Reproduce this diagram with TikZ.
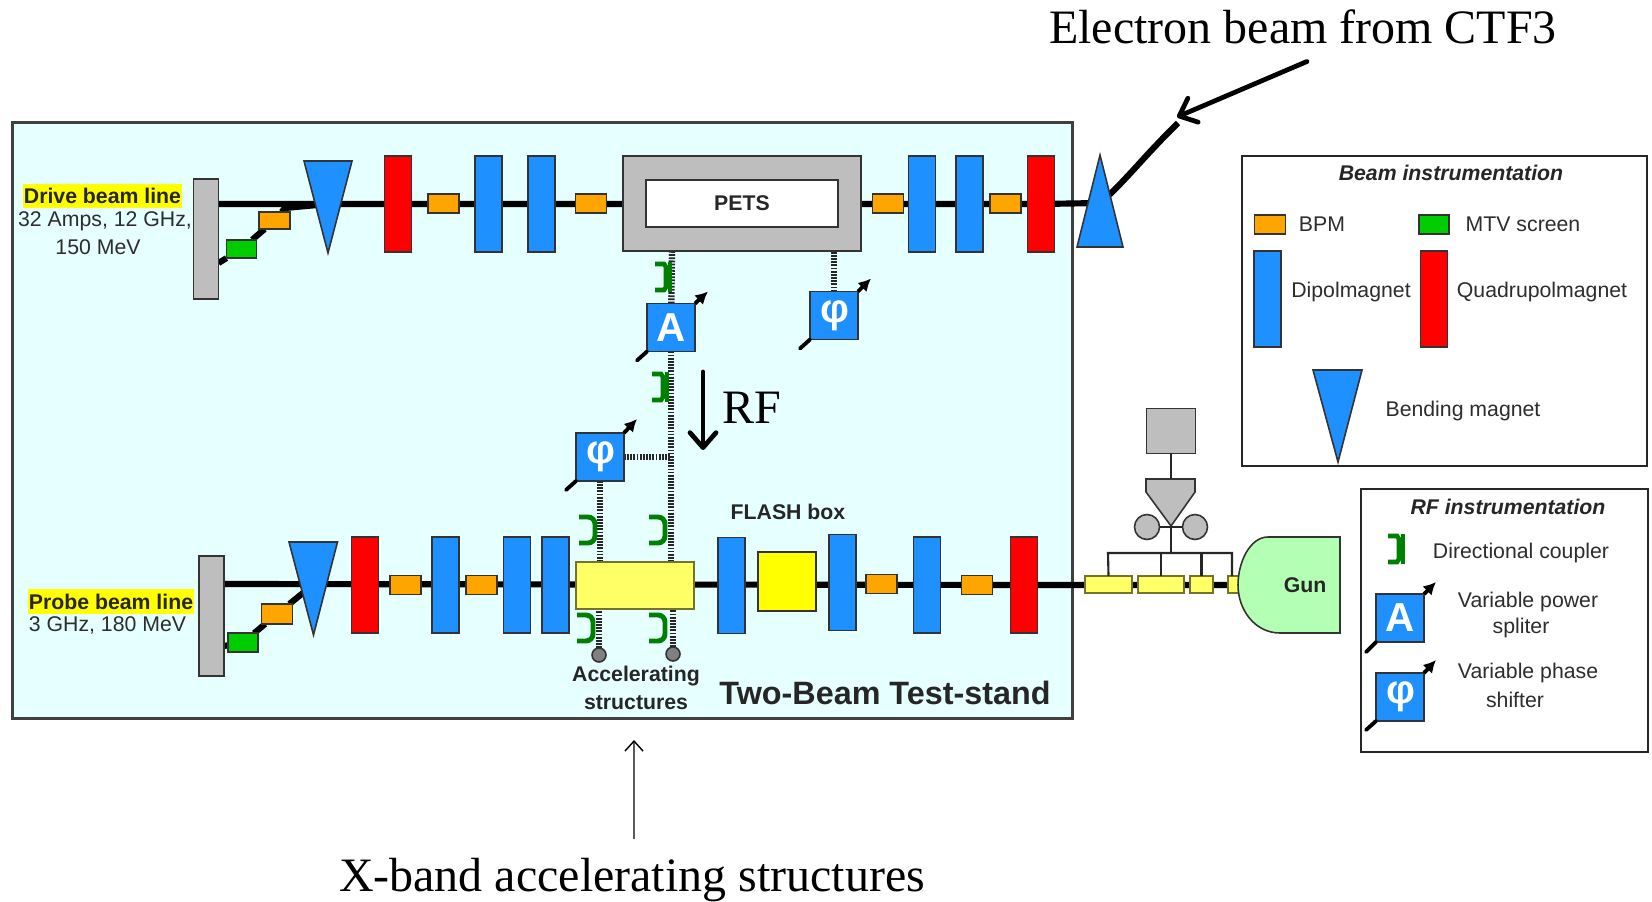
\documentclass[tikz,border=0pt]{standalone}
\usepackage{fontspec}
\setmainfont{Liberation Sans}
\newfontfamily\timesfont{Liberation Serif}
\definecolor{standbg}{RGB}{230, 255, 255}
\definecolor{magblue}{RGB}{30, 144, 255}
\definecolor{quadred}{RGB}{255, 0, 0}
\definecolor{bpmorange}{RGB}{255, 165, 0}
\definecolor{mtvgreen}{RGB}{0, 205, 0}
\definecolor{dumpgray}{RGB}{190, 190, 190}
\definecolor{hilite}{RGB}{255, 255, 0}
\definecolor{acclyellow}{RGB}{255, 255, 102}
\definecolor{gungreen}{RGB}{179, 255, 179}
\definecolor{couplergreen}{RGB}{0, 128, 0}
\definecolor{labelgray}{RGB}{45, 45, 45}
\usetikzlibrary{arrows.meta, backgrounds}
\tikzset{
  part/.style={draw=black!80, line width=0.9pt, inner sep=0pt, outer sep=0pt},
  bpm/.style={part, fill=bpmorange, minimum width=0.62cm, minimum height=0.38cm},
  mtv/.style={part, fill=mtvgreen, minimum width=0.6cm, minimum height=0.37cm},
  dipole/.style={part, fill=magblue, minimum width=0.54cm, minimum height=1.92cm},
  quadru/.style={part, fill=quadred, minimum width=0.54cm, minimum height=1.92cm},
  dump/.style={part, fill=dumpgray, minimum width=0.5cm, minimum height=2.4cm},
  bender/.style={part, fill=magblue, line join=miter},
  tuner/.style={part, fill=magblue, minimum width=0.96cm, minimum height=0.96cm, text=white, font=\fontsize{23}{23}\selectfont\bfseries},
  accel/.style={draw=black!55!acclyellow, line width=0.9pt, fill=acclyellow, inner sep=0pt, outer sep=0pt, minimum height=0.35cm},
  beam/.style={line width=3.5pt, black},
  waveguide/.style={line width=3.6pt, black!85, dash pattern=on 1pt off 0.8pt},
  feed/.style={line width=1.2pt, black!85},
  tunerstub/.style={line width=2.2pt, black, line cap=round},
  tunerarrow/.style={line width=2.2pt, black, -{Latex[length=0.25cm,width=0.26cm]}},
  bigarrow/.style={line width=2.7pt, black, line cap=round, -{Straight Barb[round, length=0.3cm,width=0.52cm]}},
  lab/.style={text=labelgray, font=\fontsize{12.1}{14}\selectfont, inner sep=0pt},
  labbold/.style={text=black!85, font=\fontsize{12.1}{14}\selectfont\bfseries, inner sep=0pt},
  legendtitle/.style={text=black!85, font=\fontsize{12.1}{14}\selectfont\bfseries\itshape, inner sep=0pt},
  legendbox/.style={draw=black!85, line width=1.1pt, fill=white, inner sep=0pt},
  bigtext/.style={font=\fontsize{27.3}{30}\selectfont\timesfont, inner sep=0pt},
  coupler/.pic={\draw[couplergreen, line width=2.8pt, rounded corners=4pt] (-8,-13) -- (8,-13) -- (8,13) -- (-8,13);},
  couplersq/.pic={\draw[couplergreen, line width=2.6pt, line join=miter] (-9,-13) -- (0,-13) -- (2,-10) -- (2,10) -- (0,13) -- (-9,13);
    \draw[couplergreen, line width=2.6pt] (6,-15) -- (6,15);}
}

\begin{document}
\begin{tikzpicture}[x=0.02cm, y=-0.02cm]
  \useasboundingbox (0,0) rectangle (1652,902);

  % Test-stand box
  \begin{scope}[on background layer]
    \node[draw=black!75, line width=1.3pt, fill=standbg, minimum width=21.2cm, minimum height=11.92cm, inner sep=0pt] (stand) at (542.5,420.5) {};
  \end{scope}

  % Drive beam line
  \node[dump] (ddump) at (206,239) {};
  \coordinate (dbendc) at (328,204);
  \node[quadru] (dquad1) at (398,204) {};
  \node[bpm] (dbpm1) at (443.5,203.5) {};
  \node[dipole] (ddip1) at (488.5,204) {};
  \node[dipole] (ddip2) at (541.5,204) {};
  \node[bpm] (dbpm2) at (591,203.5) {};
  \node[part, fill=dumpgray, minimum width=4.76cm, minimum height=1.9cm] (pets) at (742,203.5) {};
  \node[part, fill=white, minimum width=3.84cm, minimum height=0.94cm, font=\fontsize{12.1}{14}\selectfont\bfseries, text=black!85] (petsin) at (742,203.5) {PETS};
  \node[bpm] (dbpm3) at (888,203.5) {};
  \node[dipole] (ddip3) at (922,204) {};
  \node[dipole] (ddip4) at (969.5,204) {};
  \node[bpm] (dbpm4) at (1005.5,203.5) {};
  \node[quadru] (dquad2) at (1041,204) {};
  \node[bpm, minimum height=0.34cm] (dbpm0) at (274.5,220.5) {};
  \node[mtv] (dmtv) at (241.5,249) {};

  % Drive bends
  \draw[bender] (304,161) -- (352,161) -- (328,253) -- cycle;
  \draw[bender] (1100,155) -- (1123,247) -- (1077,247) -- cycle;
  \coordinate (rbendc) at (1100,203);
  \coordinate (ctfend) at (1178,123);

  % Probe beam line
  \node[dump] (pdump) at (211.5,616) {};
  \coordinate (pbendc) at (314,584);
  \node[quadru] (pquad1) at (365,585) {};
  \node[bpm] (pbpm1) at (405.5,585) {};
  \node[dipole] (pdip1) at (445.5,585) {};
  \node[bpm] (pbpm2) at (481.5,585) {};
  \node[dipole] (pdip2) at (517,585) {};
  \node[dipole] (pdip3) at (555.5,585) {};
  \node[accel, minimum width=2.36cm, minimum height=0.94cm] (xband) at (635,585.5) {};
  \node[dipole] (pdip4) at (731.5,585.5) {};
  \node[part, fill=hilite, minimum width=1.16cm, minimum height=1.18cm] (flash) at (787,581.5) {};
  \node[dipole] (pdip5) at (842.5,582.5) {};
  \node[bpm] (pbpm3) at (881.5,584) {};
  \node[dipole] (pdip6) at (927,585) {};
  \node[bpm] (pbpm4) at (977,585) {};
  \node[quadru] (pquad2) at (1024,585) {};
  \node[bpm, minimum height=0.4cm] (pbpm0) at (277,614) {};
  \node[mtv] (pmtv) at (243,642.5) {};
  \draw[bender] (289,542) -- (337.5,542) -- (313.5,635) -- cycle;

  % Gun and klystron
  \node[accel] (seg1) at (1108.5,584.5) [minimum width=0.94cm] {};
  \node[accel] (seg2) at (1161,584.5) [minimum width=0.92cm] {};
  \node[accel] (seg3) at (1201.5,584.5) [minimum width=0.46cm] {};
  \node[accel] (seg4) at (1239,584.5) [minimum width=0.44cm] {};
  \draw[part, fill=gungreen] (1340,537) -- (1268,537) .. controls (1250,537) and (1238,562) .. (1238,585) .. controls (1238,610) and (1255,633) .. (1280,633) -- (1340,633) -- cycle;
  \node[labbold] (gun) at (1305,585) {Gun};
  \node[part, fill=dumpgray, minimum width=0.98cm, minimum height=0.9cm] (kly) at (1171,431) {};
  \coordinate (funtop) at (1171,479);
  \draw[part, fill=dumpgray] (1146,479) -- (1195,479) -- (1195,492) -- (1171,526) -- (1146,492) -- cycle;
  \node[part, circle, fill=dumpgray, minimum size=0.5cm] (loadl) at (1147,527) {};
  \node[part, circle, fill=dumpgray, minimum size=0.5cm] (loadr) at (1195,527) {};
  \coordinate (busc) at (1171,553);
  \coordinate (busl) at (1108,553);
  \coordinate (busr) at (1232,553);
  \draw[feed] (kly) -- (funtop);
  \draw[feed] (loadl) -- (loadr);
  \draw[feed] (1171,527) -- (busc);
  \draw[feed] (seg1.north) -- (busl) -- (busr) -- (busr |- seg4.north);
  \draw[feed] (seg2.north) -- (seg2.north |- busr);
  \draw[feed] (seg3.north) -- (seg3.north |- busr);

  % RF tuners
  \node[tuner] (ampa) at (671,327.5) {A};
  \node[tuner] (phia) at (834,315.5) {\kern1.5ptφ};
  \node[tuner] (phib) at (600,457) {\kern1.5ptφ};
  \node[part, circle, fill=black!50, minimum size=0.28cm] (loada) at (599,655) {};
  \node[part, circle, fill=black!50, minimum size=0.28cm] (loadb) at (673,654) {};
  \draw[tunerstub] (ampa.south west) -- ++(-10,9);
  \draw[tunerarrow] (ampa.north east) -- ++(13,-12);
  \draw[tunerstub] (phia.south west) -- ++(-10,9);
  \draw[tunerarrow] (phia.north east) -- ++(13,-13);
  \draw[tunerstub] (phib.south west) -- ++(-10,9);
  \draw[tunerarrow] (phib.north east) -- ++(13,-14);

  % Beams and waveguides behind the parts
  \begin{scope}[on background layer]
    \draw[beam] (ddump.east |- dbendc) -- (dquad2) -- (rbendc) .. controls (1122,185) and (1145,155) .. (ctfend);
    \draw[beam] (ddump.east |- 0,263) -- (dmtv) -- (dbpm0) -- (285,208) -- (dbendc);
    \draw[beam] (pdump.east |- pbendc) -- (pquad2) -- (gun);
    \draw[beam] (pdump.east |- 0,646) -- (pmtv) -- (pbpm0) -- (pbendc);
    \draw[waveguide] (672,251) -- (ampa);
    \draw[waveguide] (ampa) -- (ampa |- xband.north);
    \draw[waveguide] (phia) -- (phia |- pets.south);
    \draw[waveguide] (phib) -- (ampa |- phib);
    \draw[waveguide] (phib) -- (phib |- xband.north);
    \draw[waveguide] (loada) -- (loada |- xband.south);
    \draw[waveguide] (loadb) -- (loadb |- xband.south);
  \end{scope}

  % Directional couplers
  \pic at (664,277) {couplersq};
  \pic at (661,387) {couplersq};
  \pic at (587,530) {coupler};
  \pic at (657,530) {coupler};
  \pic at (585,628) {coupler};
  \pic at (657,628) {coupler};

  % Beam line labels
  \node[fill=hilite, minimum width=3.18cm, minimum height=0.48cm, inner sep=0pt] (dhl) at (102.5,196) {};
  \node[labbold] (dname) at (dhl) {Drive beam line};
  \node[lab] (dinfo1) at (105,221) {32 Amps, 12 GHz,};
  \node[lab] (dinfo2) at (98,247) {150 MeV};
  \node[fill=hilite, minimum width=3.32cm, minimum height=0.5cm, inner sep=0pt] (phl) at (111,601.5) {};
  \node[labbold] (pname) at (phl) {Probe beam line};
  \node[lab] (pinfo) at (107.5,625) {3 GHz, 180 MeV};
  \node[labbold] (flashlab) at (788,512) {FLASH box};
  \node[labbold] (acclab1) at (636,676) {Accelerating};
  \node[labbold] (acclab2) at (636,703) {structures};
  \node[text=black!85, font=\fontsize{18.4}{21}\selectfont\bfseries, inner sep=0pt] (standlab) at (885,693) {Two-Beam Test-stand};

  % RF direction
  \node[bigtext] (rflab) at (752,408) {RF};
  \coordinate (rftop) at (703,372);
  \coordinate (rfend) at (703,450);
  \draw[bigarrow] (rftop) -- (rfend);

  % Outer labels
  \node[bigtext] (ebeam) at (1303,27) {Electron beam from CTF3};
  \draw[bigarrow] ([xshift=0.08cm,yshift=-0.34cm]ebeam.south) -- (1177,117);
  \node[bigtext] (xlab) at (632,880) {X-band accelerating structures};
  \draw[line width=0.8pt, -{Straight Barb[length=0.2cm,width=0.36cm]}] ([xshift=0.04cm,yshift=0.38cm]xlab.north) -- (634,740);

  % Beam instrumentation legend
  \node[legendbox, minimum width=8.1cm, minimum height=6.2cm] (beamleg) at (1444.5,311) {};
  \node[legendtitle] (beamtitle) at (1451,173) {Beam instrumentation};
  \node[bpm] (legbpm) at (1270,224.5) {};
  \node[lab] at (1322,224) {BPM};
  \node[mtv] (legmtv) at (1434,224.5) {};
  \node[lab] at (1523,224) {MTV screen};
  \node[dipole] (legdip) at (1267.5,299) {};
  \node[lab] at (1351,292) {Dipolmagnet};
  \node[quadru] (legquad) at (1434,299) {};
  \node[lab] at (1542,292) {Quadrupolmagnet};
  \draw[bender] (1313,370) -- (1362,370) -- (1338,462) -- cycle;
  \node[lab] at (1463,411) {Bending magnet};

  % RF instrumentation legend
  \node[legendbox, minimum width=5.74cm, minimum height=5.26cm] (rfleg) at (1504.5,620.5) {};
  \node[legendtitle] (rftitle) at (1508,507) {RF instrumentation};
  \pic at (1397,549) {couplersq};
  \node[lab] at (1521,553) {Directional coupler};
  \node[tuner] (legamp) at (1400,618) {A};
  \draw[tunerstub] (legamp.south west) -- ++(-10,10);
  \draw[tunerarrow] (legamp.north east) -- ++(12,-12);
  \node[lab] at (1528,602) {Variable power};
  \node[lab] at (1521,628) {spliter};
  \node[tuner] (legphi) at (1400,697) {\kern1.5ptφ};
  \draw[tunerstub] (legphi.south west) -- ++(-10,9);
  \draw[tunerarrow] (legphi.north east) -- ++(12,-13);
  \node[lab] at (1528,673) {Variable phase};
  \node[lab] at (1515,700) {shifter};
\end{tikzpicture}
\end{document}
